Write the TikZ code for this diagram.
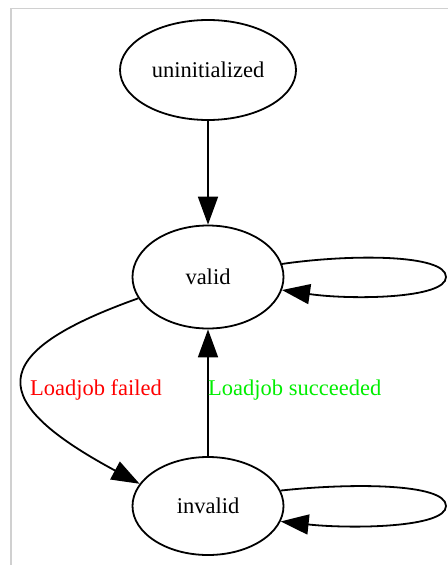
\documentclass[tikz,border=0pt]{standalone}
\usepackage{fontspec}
\setmainfont{Liberation Serif}
\usetikzlibrary{arrows.meta,shapes.geometric}
\definecolor{framegray}{HTML}{D0D0D0}
\definecolor{lblred}{HTML}{FF0000}
\definecolor{lblgreen}{HTML}{00EE00}
\begin{document}
\begin{tikzpicture}[x=1bp,y=-1bp,
  state/.style={draw=black,line width=1.8bp,ellipse,inner sep=0pt,
    font=\fontsize{22.5bp}{27bp}\selectfont},
  edge/.style={draw=black,line width=1.8bp,-{Triangle[length=28bp,width=20bp]}},
  lbl/.style={font=\fontsize{22.5bp}{27bp}\selectfont,inner sep=0pt}]
\useasboundingbox (0,0) rectangle (448,565);
\draw[framegray,line width=1.5bp] (11,565) -- (11,8.5) -- (448,8.5);
\node[state,minimum width=176bp,minimum height=100bp] (u) at (208,70) {uninitialized};
\node[state,minimum width=151bp,minimum height=103bp] (v) at (208,277) {valid};
\node[state,minimum width=151bp,minimum height=98bp] (i) at (208,506) {invalid};
\draw[edge] (u.south) -- (v.north);
\draw[edge] (v.10) .. controls (350,254) and (446,254) .. (446,277)
  .. controls (446,299) and (350,300) .. (v.-10);
\draw[edge] (i.12) .. controls (350,483) and (446,483) .. (446,506)
  .. controls (446,528) and (350,529) .. (i.-12);
\draw[edge] (v.197) .. controls (-18,354) and (-12,402) .. (i.162);
\draw[edge] (i.north) -- (v.south);
\node[lbl,text=lblred] (lf) at (96,390) {Loadjob failed};
\node[lbl,text=lblgreen,anchor=west] (ls) at (208,390) {Loadjob succeeded};
\end{tikzpicture}
\end{document}
